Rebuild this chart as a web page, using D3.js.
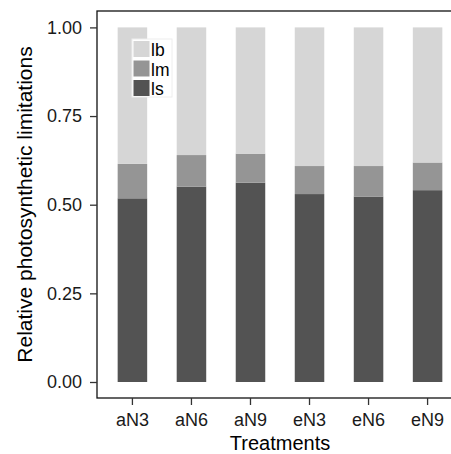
<!DOCTYPE html>
<html><head><meta charset="utf-8">
<script src="https://cdn.jsdelivr.net/npm/d3@7"></script>
<style>body{margin:0;background:#fff}svg{display:block}text{font-family:"Liberation Sans",Arial,sans-serif}</style>
</head><body><svg id="c" width="451" height="454"></svg>
<script>
const categories = ["aN3","aN6","aN9","eN3","eN6","eN9"];
const lsValues = [0.518,0.551,0.562,0.530,0.523,0.541];
const lmValues = [0.097,0.089,0.082,0.079,0.086,0.078];
const lbValues = [0.385,0.360,0.356,0.391,0.391,0.381];
const seriesNames = ["ls","lm","lb"];
const legendOrder = ["lb","lm","ls"];
const yTicks = [0,0.25,0.5,0.75,1];
const colors = {lb:"#d6d6d6", lm:"#959595", ls:"#535353"};

const svg = d3.select("#c");
const panel = {left:97, top:11, right:463, bottom:398};
const x = d3.scaleBand().domain(categories).range([panel.left, panel.right]).paddingInner(0.5).paddingOuter(0.35);
const y = d3.scaleLinear().domain([0,1]).range([382, 27.4]);

const rows = categories.map((c,i)=>({cat:c, ls:lsValues[i], lm:lmValues[i], lb:lbValues[i]}));
const stacked = d3.stack().keys(seriesNames)(rows);

svg.append("g").selectAll("g").data(stacked).join("g")
  .attr("fill", d=>colors[d.key])
  .selectAll("rect").data(d=>d).join("rect")
  .attr("x", d=>x(d.data.cat))
  .attr("width", x.bandwidth())
  .attr("y", d=>y(d[1]))
  .attr("height", d=>y(d[0])-y(d[1]));

// panel border
svg.append("rect").attr("x",panel.left).attr("y",panel.top)
  .attr("width",panel.right-panel.left).attr("height",panel.bottom-panel.top)
  .attr("fill","none").attr("stroke","#111").attr("stroke-width",1.3);

// y axis
const yAxis = svg.append("g").attr("transform",`translate(${panel.left},0)`)
  .call(d3.axisLeft(y).tickValues(yTicks).tickFormat(d3.format(".2f")).tickSize(7).tickPadding(8));
yAxis.select(".domain").remove();
yAxis.selectAll(".tick line").attr("stroke","#333").attr("stroke-width",1.3);
yAxis.selectAll(".tick text").attr("font-size",18).attr("fill","#1a1a1a");

// x axis
const xAxis = svg.append("g").attr("transform",`translate(0,${panel.bottom})`)
  .call(d3.axisBottom(x).tickSize(7).tickPadding(8));
xAxis.select(".domain").remove();
xAxis.selectAll(".tick line").attr("stroke","#333").attr("stroke-width",1.3);
xAxis.selectAll(".tick text").attr("font-size",18).attr("fill","#1a1a1a");

// titles
svg.append("text").attr("x",280).attr("y",449.5).attr("text-anchor","middle")
  .attr("font-size",20).attr("fill","#000").text("Treatments");
svg.append("text").attr("transform",`translate(32,${(panel.top+panel.bottom)/2}) rotate(-90)`)
  .attr("text-anchor","middle").attr("font-size",21).attr("fill","#000")
  .text("Relative photosynthetic limitations");

// legend
const lg = svg.append("g").attr("transform","translate(132,39)");
lg.append("rect").attr("x",0).attr("y",0).attr("width",40).attr("height",58)
  .attr("fill","#fff").attr("stroke","#eee").attr("stroke-width",1);
legendOrder.forEach((k,i)=>{
  lg.append("rect").attr("x",1.5).attr("y",2+i*19.5).attr("width",16).attr("height",16).attr("fill",colors[k]);
  lg.append("text").attr("x",19).attr("y",2+i*19.5+15).attr("font-size",17.5).attr("fill","#000").text(k);
});
</script></body></html>
